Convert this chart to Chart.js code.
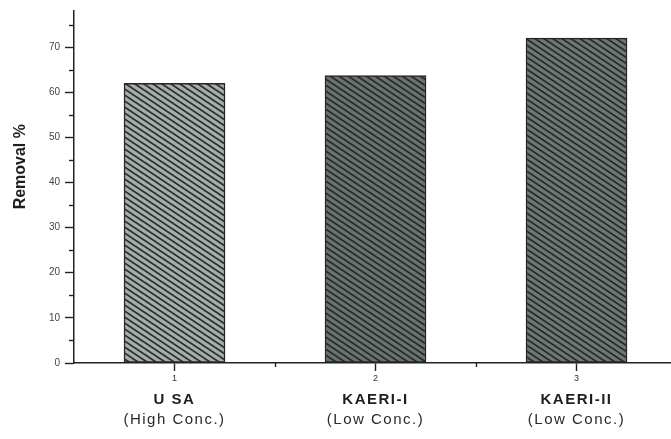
<!DOCTYPE html>
<html>
<head>
<meta charset="utf-8">
<script src="https://cdn.jsdelivr.net/npm/chart.js@4/dist/chart.umd.min.js"></script>
<style>
  html, body { margin: 0; padding: 0; background: #fff; overflow: hidden; }
  #wrap { width: 671px; height: 439px; }
</style>
</head>
<body>
<div id="wrap"><canvas id="chart-bar" width="671" height="439"></canvas></div>
<script>
const positions = [1, 2, 3];
const removal = [62, 63.7, 72];
const sites = ['U SA', 'KAERI-I', 'KAERI-II'];
const concLabels = ['(High Conc.)', '(Low Conc.)', '(Low Conc.)'];
const yTitle = 'Removal %';
const yTicks = [0, 5, 10, 15, 20, 25, 30, 35, 40, 45, 50, 55, 60, 65, 70, 75];
const xTicks = [1, 1.5, 2, 2.5, 3];

const makeHatch = (bg, line) => {
  const w = 9, h = 6;
  const c = document.createElement('canvas');
  c.width = w; c.height = h;
  const g = c.getContext('2d');
  g.fillStyle = bg;
  g.fillRect(0, 0, w, h);
  g.strokeStyle = line;
  g.lineWidth = 1.8;
  for (let k = -1; k <= 1; k++) {
    g.beginPath();
    g.moveTo(-1, k * h - h / w);
    g.lineTo(w + 1, k * h + h + h / w);
    g.stroke();
  }
  return g.createPattern(c, 'repeat');
};

const fills = [
  makeHatch('#a7adab', '#2a302f'),
  makeHatch('#6b7371', '#252b2a'),
  makeHatch('#6f7775', '#262c2b'),
];

// minor ticks (shorter), y title and category names under the x axis
const extrasPlugin = {
  id: 'extras',
  afterDraw(chart) {
    const { ctx, scales: { x, y }, chartArea } = chart;
    ctx.save();
    ctx.strokeStyle = '#222';
    ctx.lineWidth = 1.4;
    yTicks.filter((v) => v % 10 !== 0).forEach((v) => {
      const py = Math.round(y.getPixelForValue(v)) + 0.5;
      ctx.beginPath();
      ctx.moveTo(chartArea.left - 5, py);
      ctx.lineTo(chartArea.left, py);
      ctx.stroke();
    });
    xTicks.filter((v) => !Number.isInteger(v)).forEach((v) => {
      const px = Math.round(x.getPixelForValue(v)) + 0.5;
      ctx.beginPath();
      ctx.moveTo(px, chartArea.bottom);
      ctx.lineTo(px, chartArea.bottom + 4);
      ctx.stroke();
    });

    ctx.textAlign = 'center';
    ctx.textBaseline = 'middle';
    positions.forEach((p, i) => {
      const px = x.getPixelForValue(p);
      ctx.fillStyle = '#1e1e1e';
      ctx.font = 'bold 15px "Liberation Sans", Arial, sans-serif';
      ctx.letterSpacing = '1.5px';
      ctx.fillText(sites[i], px, chartArea.bottom + 37);
      ctx.fillStyle = '#2a2a2a';
      ctx.font = '15px "Liberation Sans", Arial, sans-serif';
      ctx.fillText(concLabels[i], px, chartArea.bottom + 57);
    });

    ctx.letterSpacing = '0px';
    ctx.translate(20, y.getPixelForValue(43.5));
    ctx.rotate(-Math.PI / 2);
    ctx.scale(0.94, 1);
    ctx.fillStyle = '#1e1e1e';
    ctx.font = 'bold 17px "Liberation Sans", Arial, sans-serif';
    ctx.fillText(yTitle, 0, 0);
    ctx.restore();
  },
};

const ctx = document.getElementById('chart-bar').getContext('2d');
new Chart(ctx, {
  type: 'bar',
  data: {
    datasets: [{
      data: positions.map((p, i) => ({ x: p, y: removal[i] })),
      backgroundColor: fills,
      borderColor: '#262626',
      borderWidth: 1.5,
      borderSkipped: false,
      barThickness: 101,
    }],
  },
  options: {
    responsive: false,
    animation: false,
    devicePixelRatio: 1,
    layout: { padding: { top: 5, right: 0, left: 0, bottom: 0 } },
    plugins: {
      legend: { display: false },
      tooltip: { enabled: false },
    },
    scales: {
      x: {
        type: 'linear',
        min: 0.5,
        max: 3.47,
        offset: false,
        afterBuildTicks: (scale) => { scale.ticks = xTicks.map((v) => ({ value: v })); },
        afterFit: (scale) => { scale.height = 76; },
        border: { color: '#222', width: 1.5 },
        grid: {
          offset: false,
          drawOnChartArea: false,
          tickLength: 8,
          tickWidth: 1.4,
          tickColor: (c) => (Number.isInteger(c.tick?.value) ? '#222' : 'rgba(0,0,0,0)'),
        },
        ticks: {
          autoSkip: false,
          maxRotation: 0,
          padding: 2,
          color: '#333',
          font: { family: '"Liberation Sans", Arial, sans-serif', size: 9 },
          callback: (v) => (Number.isInteger(v) ? String(v) : ''),
        },
      },
      y: {
        min: 0,
        max: 78,
        afterBuildTicks: (scale) => { scale.ticks = yTicks.map((v) => ({ value: v })); },
        afterFit: (scale) => { scale.width = 74; },
        border: { color: '#222', width: 1.5 },
        grid: {
          drawOnChartArea: false,
          tickLength: 9,
          tickWidth: 1.4,
          tickColor: (c) => (c.tick?.value % 10 === 0 ? '#222' : 'rgba(0,0,0,0)'),
        },
        ticks: {
          autoSkip: false,
          padding: 5,
          color: '#444',
          font: { family: '"Liberation Sans", Arial, sans-serif', size: 10 },
          callback: (v) => (v % 10 === 0 ? String(v) : ''),
        },
      },
    },
  },
  plugins: [extrasPlugin],
});
</script>
</body>
</html>
